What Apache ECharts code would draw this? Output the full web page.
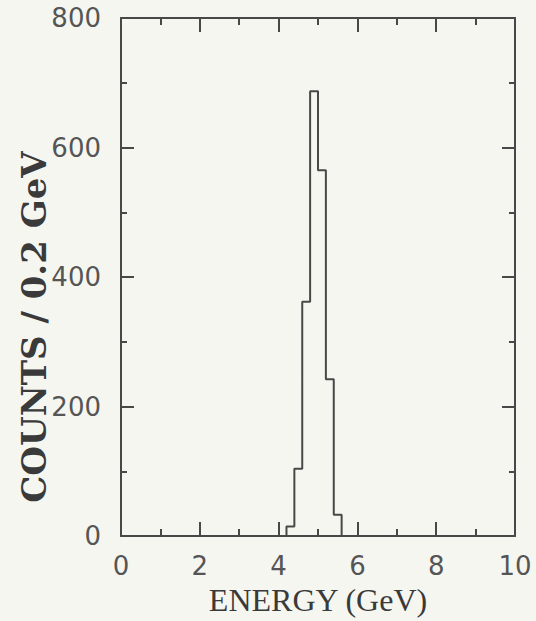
<!DOCTYPE html>
<html>
<head>
<meta charset="utf-8">
<script src="https://cdn.jsdelivr.net/npm/echarts@6/dist/echarts.min.js"></script>
<style>
  html, body { margin: 0; padding: 0; background: #f6f6f1; }
  #chart { width: 536px; height: 621px; }
</style>
</head>
<body>
<div id="chart"></div>
<script>
// histogram bins: lower edge (GeV) and counts per 0.2 GeV
const binEdges = [4.2, 4.4, 4.6, 4.8, 5.0, 5.2, 5.4]
const counts = [15, 104, 362, 687, 565, 242, 33]
const binWidth = 0.2

const ink = '#484848'

// step outline: start at baseline, then one point per bin, close at the last edge
const stepData = [[binEdges[0], 0]]
binEdges.forEach((e, i) => stepData.push([e, counts[i]]))
stepData.push([binEdges[binEdges.length - 1] + binWidth, 0])

const chart = echarts.init(document.getElementById('chart'), null, { renderer: 'svg' })

const tickFont = { color: '#555', fontFamily: 'DejaVu Sans', fontSize: 26 }

function xAx(pos, showLabel) {
  return {
    type: 'value', position: pos, min: 0, max: 10, interval: 2,
    axisLine: { show: true, onZero: false, lineStyle: { color: ink, width: 2 } },
    axisTick: { show: true, inside: true, length: 14, lineStyle: { color: ink, width: 2 } },
    minorTick: { show: true, splitNumber: 2, length: 7, lineStyle: { color: ink, width: 2 } },
    splitLine: { show: false },
    axisLabel: Object.assign({ show: showLabel, margin: 17 }, tickFont),
  }
}
function yAx(pos, showLabel) {
  return {
    type: 'value', position: pos, min: 0, max: 800, interval: 200,
    axisLine: { show: true, onZero: false, lineStyle: { color: ink, width: 2 } },
    axisTick: { show: true, inside: true, length: 13, lineStyle: { color: ink, width: 2 } },
    minorTick: { show: true, splitNumber: 2, length: 6, lineStyle: { color: ink, width: 2 } },
    splitLine: { show: false },
    axisLabel: Object.assign({ show: showLabel, margin: 20 }, tickFont),
  }
}

const bottomX = xAx('bottom', true)
bottomX.name = 'ENERGY (GeV)'
bottomX.nameLocation = 'middle'
bottomX.nameGap = 46
bottomX.nameTextStyle = { color: '#3a3a3a', fontFamily: 'Liberation Serif', fontSize: 32 }

chart.setOption({
  animation: false,
  backgroundColor: '#f6f6f1',
  grid: { left: 121, right: 21, top: 18, bottom: 83 },
  xAxis: [bottomX, xAx('top', false)],
  yAxis: [yAx('left', true), yAx('right', false)],
  // y title sits lower than the axis centre in the original, so it is placed by hand
  graphic: [
    {
      type: 'text',
      x: 34,
      y: 327,
      rotation: Math.PI / 2,
      style: {
        text: 'COUNTS / 0.2 GeV',
        fill: '#3a3a3a',
        font: 'bold 34px "DejaVu Serif"',
        align: 'center',
        verticalAlign: 'middle',
      },
    },
  ],
  series: [
    {
      type: 'line',
      step: 'end',
      data: stepData,
      symbol: 'none',
      lineStyle: { color: ink, width: 2 },
    },
  ],
})
</script>
</body>
</html>
